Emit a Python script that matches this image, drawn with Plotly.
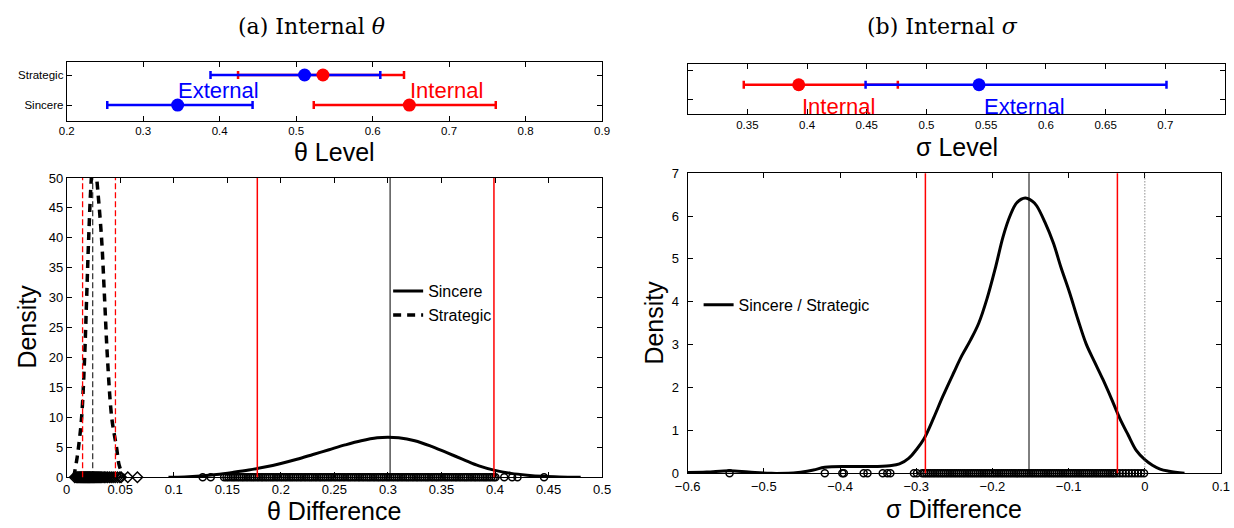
import plotly.graph_objects as go

W, H = 1234, 528
# The page shows the figure 8 px in from the left and 1218 px wide; the
# helpers below convert reference pixel positions into paper fractions.
X_OFF, EFF_W = 8, 1218

# ---------------- data ----------------
# (a) top panel: theta level estimates with intervals
theta_rows = ["Sincere", "Strategic"]
theta_row_pos = [1, 2]
theta_int_est = [0.648, 0.535]
theta_int_lo = [0.523, 0.424]
theta_int_hi = [0.761, 0.641]
theta_ext_est = [0.345, 0.511]
theta_ext_lo = [0.253, 0.388]
theta_ext_hi = [0.443, 0.610]
theta_level_ticks = [0.2, 0.3, 0.4, 0.5, 0.6, 0.7, 0.8, 0.9]

# (b) top panel: sigma level estimates with intervals
sigma_row_pos = [1.5]
sigma_int_est = [0.393]
sigma_int_lo = [0.347]
sigma_int_hi = [0.476]
sigma_ext_est = [0.544]
sigma_ext_lo = [0.449]
sigma_ext_hi = [0.701]
sigma_level_ticks = [0.35, 0.4, 0.45, 0.5, 0.55, 0.6, 0.65, 0.7, 0.75]

# (a) bottom panel: theta difference densities
sincere_x = [0.095, 0.11, 0.125, 0.14, 0.155, 0.17, 0.185, 0.2, 0.215, 0.23, 0.245, 0.26,
             0.275, 0.29, 0.3, 0.31, 0.325, 0.34, 0.355, 0.37, 0.385, 0.4, 0.415, 0.43,
             0.445, 0.46, 0.48]
sincere_y = [0.0, 0.05, 0.2, 0.45, 0.8, 1.2, 1.7, 2.3, 3.0, 3.8, 4.6, 5.4,
             6.1, 6.6, 6.7, 6.6, 6.1, 5.2, 4.1, 3.0, 1.9, 1.15, 0.65, 0.35,
             0.15, 0.05, 0.0]
strategic_x = [0.0065, 0.009, 0.011, 0.0139, 0.0167, 0.0186, 0.0205, 0.023, 0.0255,
               0.028, 0.0325, 0.0353, 0.038, 0.042, 0.0465, 0.049, 0.052, 0.054]
strategic_y = [0.0, 2.5, 5.0, 10.0, 20.0, 30.0, 40.0, 50.0, 55.0,
               50.0, 40.0, 30.0, 20.0, 10.0, 5.0, 2.0, 0.6, 0.0]
sincere_rug = [0.127, 0.1345, 0.1470, 0.1492, 0.1511, 0.1534, 0.1553, 0.1572, 0.1594, 0.1613,
               0.1635, 0.1652, 0.1674, 0.1693, 0.1715, 0.1734, 0.1753, 0.1775, 0.1794, 0.1816,
               0.1833, 0.1855, 0.1874, 0.1896, 0.1915, 0.1934, 0.1956, 0.1975, 0.1997, 0.2014,
               0.2036, 0.2055, 0.2077, 0.2096, 0.2115, 0.2137, 0.2156, 0.2178, 0.2195, 0.2217,
               0.2236, 0.2258, 0.2277, 0.2296, 0.2318, 0.2337, 0.2359, 0.2376, 0.2398, 0.2417,
               0.2439, 0.2458, 0.2477, 0.2499, 0.2518, 0.2540, 0.2557, 0.2579, 0.2598, 0.2620,
               0.2639, 0.2658, 0.2680, 0.2699, 0.2721, 0.2738, 0.2760, 0.2779, 0.2801, 0.2820,
               0.2839, 0.2861, 0.2880, 0.2902, 0.2919, 0.2941, 0.2960, 0.2982, 0.3001, 0.3020,
               0.3042, 0.3061, 0.3083, 0.3100, 0.3122, 0.3141, 0.3163, 0.3182, 0.3201, 0.3223,
               0.3242, 0.3264, 0.3281, 0.3303, 0.3322, 0.3344, 0.3363, 0.3382, 0.3404, 0.3423,
               0.3445, 0.3462, 0.3484, 0.3503, 0.3525, 0.3544, 0.3563, 0.3585, 0.3604, 0.3626,
               0.3643, 0.3665, 0.3684, 0.3706, 0.3725, 0.3744, 0.3766, 0.3785, 0.3807, 0.3824,
               0.3846, 0.3865, 0.3887, 0.3906, 0.3925, 0.3947, 0.3966, 0.3988, 0.4004, 0.4086,
               0.416, 0.421, 0.4458]
strategic_rug = [0.0075, 0.0088, 0.0097, 0.0105, 0.0113, 0.012, 0.0128, 0.0134, 0.0141,
                 0.0148, 0.0153, 0.0159, 0.0166, 0.0171, 0.0177, 0.0183, 0.0189, 0.0194,
                 0.0200, 0.0206, 0.0211, 0.0217, 0.0223, 0.0229, 0.0236, 0.0242, 0.0249,
                 0.0255, 0.0262, 0.0270, 0.0278, 0.0287, 0.0296, 0.0305, 0.0316, 0.0327,
                 0.0339, 0.0352, 0.0366, 0.0381, 0.0398, 0.0415, 0.0433, 0.0452, 0.0474,
                 0.0496, 0.0508, 0.057, 0.066]
theta_ci_sincere = [0.178, 0.399]
theta_med_sincere = [0.302]
theta_ci_strategic = [0.0148, 0.0455]
theta_med_strategic = [0.0243]
theta_diff_ticks = [0, 0.05, 0.1, 0.15, 0.2, 0.25, 0.3, 0.35, 0.4, 0.45, 0.5]
theta_diff_ticktext = ["0", "0.05", "0.1", "0.15", "0.2", "0.25", "0.3", "0.35", "0.4", "0.45", "0.5"]
theta_density_ticks = [0, 5, 10, 15, 20, 25, 30, 35, 40, 45, 50]

# (b) bottom panel: sigma difference density
sigma_x = [-0.6, -0.575, -0.545, -0.52, -0.49, -0.455, -0.435, -0.42, -0.39, -0.36, -0.335,
           -0.322, -0.31, -0.3, -0.29, -0.277, -0.265, -0.251, -0.24, -0.229, -0.218, -0.207,
           -0.196, -0.186, -0.177, -0.168, -0.157, -0.148, -0.142, -0.131, -0.12, -0.11,
           -0.099, -0.088, -0.077, -0.066, -0.055, -0.044, -0.033, -0.022, -0.011, 0.0,
           0.01, 0.02, 0.032, 0.052]
sigma_y = [0.02, 0.03, 0.06, 0.03, 0.0, 0.02, 0.08, 0.14, 0.16, 0.16, 0.18,
           0.22, 0.35, 0.55, 0.8, 1.3, 1.8, 2.34, 2.75, 3.1, 3.5, 4.08,
           4.8, 5.52, 6.0, 6.31, 6.42, 6.35, 6.24, 5.85, 5.37, 4.8,
           4.23, 3.6, 3.02, 2.6, 2.19, 1.75, 1.29, 0.9, 0.53, 0.32,
           0.19, 0.1, 0.05, 0.0]
sigma_rug = [-0.545, -0.42, -0.397, -0.395, -0.369, -0.364, -0.344, -0.338, -0.334, -0.303,
             -0.299, -0.2921, -0.2893, -0.2866, -0.2837, -0.2810, -0.2781, -0.2754, -0.2725,
             -0.2698, -0.2669, -0.2642, -0.2613, -0.2586, -0.2557, -0.2530, -0.2501, -0.2474,
             -0.2445, -0.2418, -0.2389, -0.2362, -0.2333, -0.2306, -0.2277, -0.2250, -0.2221,
             -0.2194, -0.2165, -0.2138, -0.2109, -0.2082, -0.2053, -0.2026, -0.1997, -0.1970,
             -0.1941, -0.1914, -0.1885, -0.1858, -0.1829, -0.1802, -0.1773, -0.1746, -0.1717,
             -0.1690, -0.1661, -0.1634, -0.1605, -0.1578, -0.1549, -0.1522, -0.1493, -0.1466,
             -0.1437, -0.1410, -0.1381, -0.1354, -0.1325, -0.1298, -0.1269, -0.1242, -0.1213,
             -0.1186, -0.1157, -0.1130, -0.1101, -0.1074, -0.1045, -0.1018, -0.0989, -0.0962,
             -0.0933, -0.0906, -0.0877, -0.0850, -0.0821, -0.0794, -0.0765, -0.0738, -0.0709,
             -0.0682, -0.0653, -0.0626, -0.0597, -0.0570, -0.0541, -0.0514, -0.0485, -0.0458,
             -0.0429, -0.0402, -0.037, -0.033, -0.029, -0.025, -0.021, -0.017, -0.013, -0.009,
             -0.005, -0.001]
sigma_ci = [-0.288, -0.036]
sigma_med = [-0.152]
sigma_zero = [0.0]
sigma_diff_ticks = [-0.6, -0.5, -0.4, -0.3, -0.2, -0.1, 0, 0.1]
sigma_diff_ticktext = ["\u22120.6", "\u22120.5", "\u22120.4", "\u22120.3", "\u22120.2", "\u22120.1", "0", "0.1"]
sigma_density_ticks = [0, 1, 2, 3, 4, 5, 6, 7]

# ---------------- helpers ----------------
SANS = "Liberation Sans, Arial, Helvetica, sans-serif"
SERIF = "DejaVu Serif, serif"
RED = "#ff0000"
BLUE = "#0000ff"


def fx(px):
    return min(1.0, max(0.0, (px - X_OFF) / EFF_W))


def fy(px):
    return 1 - px / H


def xdom(a, b):
    return [fx(a), fx(b)]


def ydom(top, bottom):
    return [fy(bottom), fy(top)]


def axis_style(**kw):
    d = dict(showline=True, linecolor="black", linewidth=1, mirror="allticks",
             ticks="inside", ticklen=5, tickwidth=1, tickcolor="black",
             showgrid=False, zeroline=False, fixedrange=True,
             tickfont=dict(family=SANS, size=13, color="black"))
    d.update(kw)
    return d


fig = go.Figure()


def ci_trace(est, lo, hi, ypos, color, xa, ya):
    return go.Scatter(
        x=est, y=ypos, mode="markers", xaxis=xa, yaxis=ya, showlegend=False,
        marker=dict(size=1, color=color, opacity=0),
        error_x=dict(type="data", symmetric=False,
                     array=[h - e for h, e in zip(hi, est)],
                     arrayminus=[e - l for e, l in zip(est, lo)],
                     color=color, thickness=2.5, width=4),
        hoverinfo="skip")


def dot_trace(est, ypos, color, xa, ya):
    return go.Scatter(x=est, y=ypos, mode="markers", xaxis=xa, yaxis=ya, showlegend=False,
                      marker=dict(size=13, color=color), hoverinfo="skip")


# ---- top-left: theta level ----
fig.add_trace(ci_trace(theta_int_est, theta_int_lo, theta_int_hi, theta_row_pos, RED, "x", "y"))
fig.add_trace(ci_trace(theta_ext_est, theta_ext_lo, theta_ext_hi, theta_row_pos, BLUE, "x", "y"))
fig.add_trace(dot_trace(theta_int_est, theta_row_pos, RED, "x", "y"))
fig.add_trace(dot_trace(theta_ext_est, theta_row_pos, BLUE, "x", "y"))

# ---- top-right: sigma level ----
fig.add_trace(ci_trace(sigma_int_est, sigma_int_lo, sigma_int_hi, sigma_row_pos, RED, "x2", "y2"))
fig.add_trace(ci_trace(sigma_ext_est, sigma_ext_lo, sigma_ext_hi, sigma_row_pos, BLUE, "x2", "y2"))
fig.add_trace(dot_trace(sigma_int_est, sigma_row_pos, RED, "x2", "y2"))
fig.add_trace(dot_trace(sigma_ext_est, sigma_row_pos, BLUE, "x2", "y2"))

# ---- bottom-left: theta difference densities ----
RUG_CIRCLE = dict(symbol="circle-open", size=7, color="black", line=dict(width=1.5, color="black"))
RUG_DIAMOND = dict(symbol="diamond-open", size=8, color="black", line=dict(width=1.5, color="black"))
fig.add_trace(go.Scatter(x=sincere_rug, y=[0] * len(sincere_rug), mode="markers",
                         xaxis="x3", yaxis="y3", showlegend=False, cliponaxis=False,
                         marker=RUG_CIRCLE, hoverinfo="skip"))
fig.add_trace(go.Scatter(x=strategic_rug, y=[0] * len(strategic_rug), mode="markers",
                         xaxis="x3", yaxis="y3", showlegend=False, cliponaxis=False,
                         marker=RUG_DIAMOND, hoverinfo="skip"))
fig.add_trace(go.Scatter(x=sincere_x, y=sincere_y, mode="lines", name="Sincere",
                         xaxis="x3", yaxis="y3", legend="legend",
                         line=dict(color="black", width=3, shape="spline")))
fig.add_trace(go.Scatter(x=strategic_x, y=strategic_y, mode="lines", name="Strategic",
                         xaxis="x3", yaxis="y3", legend="legend",
                         line=dict(color="black", width=3.5, dash="8px,6px", shape="spline")))

# ---- bottom-right: sigma difference density ----
fig.add_trace(go.Scatter(x=sigma_rug, y=[0] * len(sigma_rug), mode="markers",
                         xaxis="x4", yaxis="y4", showlegend=False, cliponaxis=False,
                         marker=RUG_CIRCLE, hoverinfo="skip"))
fig.add_trace(go.Scatter(x=sigma_x, y=sigma_y, mode="lines", name="Sincere / Strategic",
                         xaxis="x4", yaxis="y4", legend="legend2",
                         line=dict(color="black", width=3, shape="spline")))

# ---- reference lines ----
shapes = []


def vline(v, xa, color, dash="solid", width=1.5):
    return dict(type="line", xref=xa, yref=xa.replace("x", "y") + " domain", x0=v, x1=v,
                y0=0, y1=1, line=dict(color=color, width=width, dash=dash))


for v in theta_ci_sincere:
    shapes.append(vline(v, "x3", RED))
for v in theta_med_sincere:
    shapes.append(vline(v, "x3", "black", width=1))
for v in theta_ci_strategic:
    shapes.append(vline(v, "x3", RED, "6px,3px", width=1.3))
for v in theta_med_strategic:
    shapes.append(vline(v, "x3", "black", "6px,3px", width=1))
for v in sigma_ci:
    shapes.append(vline(v, "x4", RED))
for v in sigma_med:
    shapes.append(vline(v, "x4", "black", width=1))
for v in sigma_zero:
    shapes.append(vline(v, "x4", "#555555", "1px,2px", width=1))

# ---- annotations ----
ann = []
ann.append(dict(text="(a) Internal <i>θ</i>", xref="paper", yref="paper", x=fx(308), y=fy(20),
                showarrow=False, xanchor="center", yanchor="middle",
                font=dict(family=SERIF, size=22, color="black")))
ann.append(dict(text="(b) Internal <i>σ</i>", xref="paper", yref="paper", x=fx(942), y=fy(20),
                showarrow=False, xanchor="center", yanchor="middle",
                font=dict(family=SERIF, size=22, color="black")))
ann.append(dict(text="External", xref="x", yref="y", x=0.398, y=1.5, showarrow=False,
                font=dict(family=SANS, size=22, color=BLUE)))
ann.append(dict(text="Internal", xref="x", yref="y", x=0.697, y=1.5, showarrow=False,
                font=dict(family=SANS, size=22, color=RED)))
ann.append(dict(text="Internal", xref="x2", yref="y2", x=0.426, y=0.76, showarrow=False,
                font=dict(family=SANS, size=22, color=RED)))
ann.append(dict(text="External", xref="x2", yref="y2", x=0.582, y=0.76, showarrow=False,
                font=dict(family=SANS, size=22, color=BLUE)))
for txt, cx, cy, ang in [("θ Level", 331, 149, 0), ("σ Level", 957, 144, 0),
                         ("θ Difference", 331, 519, 0), ("σ Difference", 954, 517, 0),
                         ("Density", 22, 329, -90), ("Density", 652, 325, -90)]:
    ann.append(dict(text=txt, xref="paper", yref="paper", x=fx(cx), y=fy(cy),
                    showarrow=False, xanchor="center", yanchor="middle", textangle=ang,
                    borderpad=0, font=dict(family=SANS, size=25, color="black")))

fig.update_layout(
    width=W, height=H, margin=dict(l=0, r=0, t=0, b=0),
    paper_bgcolor="white", plot_bgcolor="white",
    showlegend=True,
    xaxis=axis_style(domain=xdom(62, 600), anchor="y", range=[0.2, 0.9],
                     tickvals=theta_level_ticks, tickfont=dict(family=SANS, size=11.5, color="black")),
    yaxis=axis_style(domain=ydom(57, 117), anchor="x", range=[0.48, 2.42],
                     tickvals=theta_row_pos, ticktext=theta_rows,
                     tickfont=dict(family=SANS, size=11.5, color="black")),
    xaxis2=axis_style(domain=xdom(686, 1228), anchor="y2", range=[0.3, 0.75],
                      tickvals=sigma_level_ticks, tickfont=dict(family=SANS, size=11.5, color="black")),
    yaxis2=axis_style(domain=ydom(59, 110), anchor="x2", range=[0.5, 2.2],
                      tickvals=[1, 2], showticklabels=False),
    xaxis3=axis_style(domain=xdom(62, 600), anchor="y3", range=[0, 0.5],
                      tickvals=theta_diff_ticks, ticktext=theta_diff_ticktext),
    yaxis3=axis_style(domain=ydom(176, 484), anchor="x3", range=[0, 50],
                      tickvals=theta_density_ticks),
    xaxis4=axis_style(domain=xdom(686, 1222), anchor="y4", range=[-0.6, 0.1],
                      tickvals=sigma_diff_ticks, ticktext=sigma_diff_ticktext,
                      ticklabelstandoff=1),
    yaxis4=axis_style(domain=ydom(171, 480), anchor="x4", range=[0, 7],
                      tickvals=sigma_density_ticks, ticklabelstandoff=5),
    legend=dict(x=fx(385), y=fy(275), xanchor="left", yanchor="top",
                bgcolor="rgba(0,0,0,0)", borderwidth=0,
                font=dict(family=SANS, size=16, color="black"), tracegroupgap=0),
    legend2=dict(x=fx(697), y=fy(289), xanchor="left", yanchor="top",
                 bgcolor="rgba(0,0,0,0)", borderwidth=0,
                 font=dict(family=SANS, size=16, color="black")),
    shapes=shapes,
    annotations=ann,
)

fig.write_html("out.html")
